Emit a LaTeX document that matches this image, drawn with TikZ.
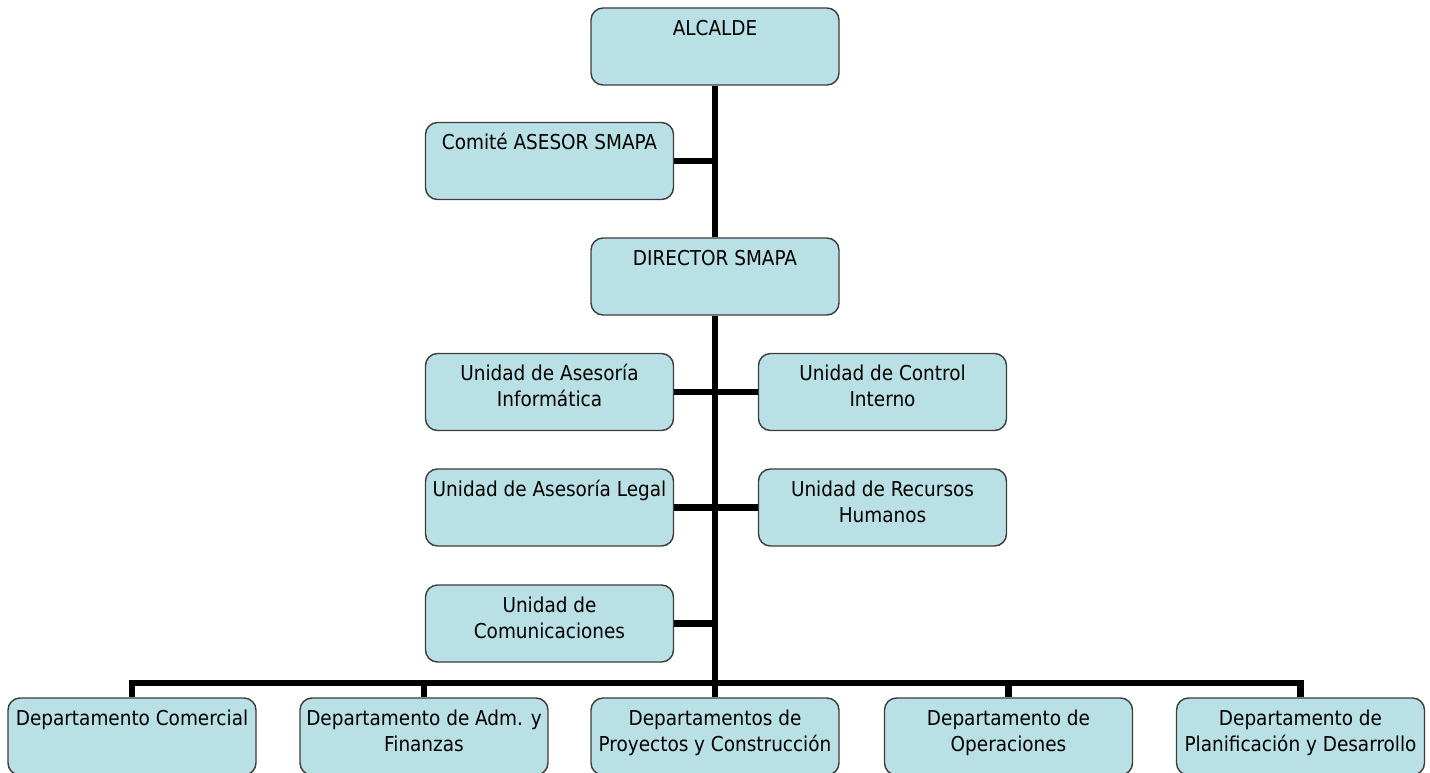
\documentclass[tikz,border=0pt]{standalone}
\usepackage{fontspec}
\setmainfont{DejaVu Sans Condensed}
\usepackage{xcolor}
\usetikzlibrary{positioning}

\definecolor{boxfill}{RGB}{185,224,228}
\definecolor{boxline}{RGB}{60,60,60}

\begin{document}
\begin{tikzpicture}[
  x=1pt, y=-1pt,
  orgbox/.style={rectangle, draw=boxline, fill=boxfill, line width=1.4pt,
                 rounded corners=12pt, minimum width=248pt, minimum height=77pt,
                 inner sep=0pt,
                 font=\fontsize{20.5}{26}\selectfont,
                 execute at begin node={\begin{minipage}[c][77pt][t]{246pt}\centering\vspace*{9pt}\strut},
                 execute at end node={\end{minipage}}},
  conn/.style={line width=6.5pt, black, line join=miter}
]
\useasboundingbox (0,0) rectangle (1430,773);

% top of the chart
\node[orgbox] (alcalde) at (715,46.5) {ALCALDE};
\node[orgbox] (comite) at (549.5,161) {Comité ASESOR SMAPA};
\node[orgbox] (director) at (715,276.5) {DIRECTOR SMAPA};

% staff units
\node[orgbox] (informatica) at (549.5,392) {Unidad de Asesoría\\Informática};
\node[orgbox] (control) at (882.5,392) {Unidad de Control\\Interno};
\node[orgbox] (legal) at (549.5,507.5) {Unidad de Asesoría Legal};
\node[orgbox] (rrhh) at (882.5,507.5) {Unidad de Recursos\\Humanos};
\node[orgbox] (comunic) at (549.5,623.5) {Unidad de\\Comunicaciones};

% departments
\node[orgbox] (comercial) at (132,736.5) {Departamento Comercial};
\node[orgbox] (finanzas) at (424,736.5) {Departamento de Adm. y\\Finanzas};
\node[orgbox] (proyectos) at (715,736.5) {Departamentos de\\Proyectos y Construcción};
\node[orgbox] (operaciones) at (1008.5,736.5) {Departamento de\\Operaciones};
\node[orgbox] (planif) at (1300.5,736.5) {Departamento de\\Planificación y Desarrollo};

\coordinate (bus) at (715,683);

\draw[conn] (alcalde.south) -- (director.north);
\draw[conn] (director.south) -- (proyectos.north);
\draw[conn] (comite.east) -- (comite.east -| alcalde.south);
\draw[conn] (informatica.east) -- (control.west);
\draw[conn] (legal.east) -- (rrhh.west);
\draw[conn] (comunic.east) -- (comunic.east -| director.south);
\draw[conn] (comercial.north) -- (comercial.north |- bus) -| (planif.north);
\draw[conn] (finanzas.north) -- (finanzas.north |- bus);
\draw[conn] (operaciones.north) -- (operaciones.north |- bus);
\end{tikzpicture}
\end{document}
